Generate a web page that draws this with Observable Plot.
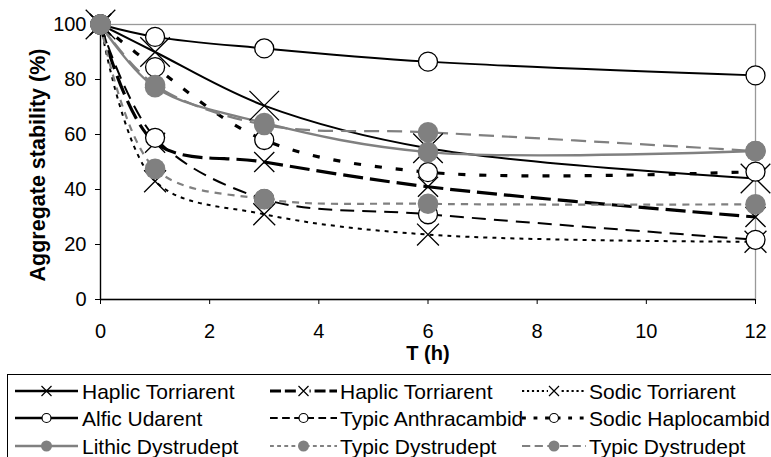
<!DOCTYPE html>
<html><head><meta charset="utf-8">
<script src="https://cdn.jsdelivr.net/npm/d3@7"></script>
<script src="https://cdn.jsdelivr.net/npm/@observablehq/plot@0.6"></script>
<style>
body{margin:0;background:#fff;font-family:"Liberation Sans",Arial,sans-serif;}
#wrap{position:relative;width:771px;height:457px;overflow:hidden;background:#fff;}
#legend{position:absolute;left:7px;top:374px;width:830px;height:120px;border:1px solid #000;box-sizing:border-box;}
.lab{position:absolute;font-size:21px;line-height:21px;white-space:nowrap;color:#000;}
.sw{position:absolute;}
</style></head><body><div id="wrap"><div id="chart"></div><div id="legend"></div></div>
<script>
// ---- data ----
const hours = [0, 1, 3, 6, 12];
const seriesNames = [
  "Haplic Torriarent", "Haplic Torriarent", "Sodic Torriarent",
  "Alfic Udarent", "Typic Anthracambid", "Sodic Haplocambid",
  "Lithic Dystrudept", "Typic Dystrudept", "Typic Dystrudept"
];
const haplicTorriarentA = [100, 90, 70.5, 55, 44];
const haplicTorriarentB = [100, 57, 50, 41, 30];
const sodicTorriarent   = [100, 43, 31, 23.6, 21];
const alficUdarent      = [100, 95.5, 91.3, 86.5, 81.5];
const typicAnthracambid = [100, 58.8, 36.5, 31, 21.7];
const sodicHaplocambid  = [100, 84.5, 58, 46.3, 46.5];
const lithicDystrudept  = [100, 77.2, 64.2, 53.6, 54];
const typicDystrudeptA  = [100, 47.5, 36.5, 34.8, 34.6];
const typicDystrudeptB  = [100, 78, 63.5, 60.8, 54];
const yTicks = [0, 20, 40, 60, 80, 100];
const xTicks = [0, 2, 4, 6, 8, 10, 12];

const values = [haplicTorriarentA, haplicTorriarentB, sodicTorriarent, alficUdarent,
  typicAnthracambid, sodicHaplocambid, lithicDystrudept, typicDystrudeptA, typicDystrudeptB];

// ---- styles ----
const GRAY = "#808080";
const styles = [
  {stroke:"#000", w:2,   dash:null,   marker:"x", r:13.5},
  {stroke:"#000", w:3.2, dash:"20,7", marker:"x", r:9.2},
  {stroke:"#000", w:2,   dash:"4,5",  marker:"x", r:10},
  {stroke:"#000", w:2,   dash:null,   marker:"o"},
  {stroke:"#000", w:2,   dash:"14,8", marker:"o"},
  {stroke:"#000", w:3.2, dash:"7,14", marker:"o"},
  {stroke:GRAY,   w:2.4, dash:null,   marker:"g"},
  {stroke:GRAY,   w:2.2, dash:"7,6",  marker:"g"},
  {stroke:GRAY,   w:2.2, dash:"15,8", marker:"g"}
];

const rows = [];
values.forEach((arr, i) => arr.forEach((v, j) => rows.push({s: i, t: hours[j], v})));
const of = i => rows.filter(d => d.s === i);

const lineMarks = styles.map((st, i) => Plot.line(of(i), {
  x: "t", y: "v", curve: "catmull-rom", stroke: st.stroke, strokeWidth: st.w,
  strokeDasharray: st.dash || undefined, strokeLinecap: "butt"
}));
const dotMarks = styles.map((st, i) => {
  if (st.marker === "x") return Plot.dot(of(i), {x:"t", y:"v", symbol:"times", r:st.r, stroke:"#000", strokeWidth:1.3});
  if (st.marker === "o") return Plot.dot(of(i), {x:"t", y:"v", symbol:"circle", r:9.5, fill:"#fff", stroke:"#000", strokeWidth:1.3});
  return Plot.dot(of(i), {x:"t", y:"v", symbol:"circle", r:10.3, fill:GRAY, stroke:"none"});
});

const chart = Plot.plot({
  width: 771, height: 365,
  marginTop: 24, marginBottom: 66, marginLeft: 100, marginRight: 16,
  style: {fontSize: "20px", fontFamily: "'Liberation Sans', Arial, sans-serif", color: "#000", background: "#fff"},
  x: {domain: [0, 12]},
  y: {domain: [0, 100]},
  marks: [
    Plot.frame({stroke: "#999", strokeWidth: 1.3}),
    Plot.axisX({ticks: xTicks, tickSize: 5, tickPadding: 19, label: null, fontSize: 20}),
    Plot.axisY({ticks: yTicks, tickSize: 5, tickPadding: 9, label: null, fontSize: 20}),
    Plot.ruleX([0], {stroke: "#000", strokeWidth: 1.3}),
    Plot.ruleY([0], {stroke: "#000", strokeWidth: 1.3}),
    ...lineMarks,
    ...dotMarks,
    Plot.text(["T (h)"], {frameAnchor: "bottom", lineAnchor: "middle", dy: 54, fontWeight: "bold", fontSize: 20}),
    Plot.text(["Aggregate stability (%)"], {frameAnchor: "left", textAnchor: "middle", lineAnchor: "middle", dx: -62, dy: 3, rotate: -90, fontWeight: "bold", fontSize: 21.5})
  ]
});
document.getElementById("chart").appendChild(chart);

// ---- legend ----
const legend = document.getElementById("legend");
const colSw = [7, 262, 514];
const colTx = [74, 332, 581];
const swW = [63, 67, 64];
const rowY = [16, 43, 71];
const NS = "http://www.w3.org/2000/svg";
styles.forEach((st, i) => {
  const row = Math.floor(i / 3), col = i % 3;
  const w = swW[col], h = 22;
  const svg = document.createElementNS(NS, "svg");
  svg.setAttribute("width", w); svg.setAttribute("height", h);
  svg.setAttribute("class", "sw");
  svg.style.left = colSw[col] + "px"; svg.style.top = (rowY[row] - h / 2) + "px";
  const ln = document.createElementNS(NS, "line");
  ln.setAttribute("x1", 0); ln.setAttribute("x2", w); ln.setAttribute("y1", h/2); ln.setAttribute("y2", h/2);
  ln.setAttribute("stroke", st.stroke); ln.setAttribute("stroke-width", st.dash ? st.w : 2.6);
  if (st.dash) ln.setAttribute("stroke-dasharray", st.dash.split(",").map(x => x * 0.55).join(","));
  svg.appendChild(ln);
  const cx = w / 2, cy = h / 2;
  if (st.marker === "x") {
    const p = document.createElementNS(NS, "path");
    p.setAttribute("d", `M${cx-5},${cy-5}L${cx+5},${cy+5}M${cx-5},${cy+5}L${cx+5},${cy-5}`);
    p.setAttribute("stroke", "#000"); p.setAttribute("stroke-width", 1.2);
    const bg = document.createElementNS(NS, "rect");
    bg.setAttribute("x", cx-6); bg.setAttribute("y", 0); bg.setAttribute("width", 12); bg.setAttribute("height", h);
    bg.setAttribute("fill", "#fff");
    if (i !== 0) svg.appendChild(bg);
    svg.appendChild(p);
  } else {
    const c = document.createElementNS(NS, "circle");
    c.setAttribute("cx", cx); c.setAttribute("cy", cy);
    c.setAttribute("r", st.marker === "o" ? 4.5 : 5.5);
    c.setAttribute("fill", st.marker === "o" ? "#fff" : GRAY);
    c.setAttribute("stroke", st.marker === "o" ? "#000" : "none");
    c.setAttribute("stroke-width", 1.2);
    svg.appendChild(c);
  }
  legend.appendChild(svg);
  const t = document.createElement("div");
  t.className = "lab";
  t.textContent = seriesNames[i];
  t.style.left = colTx[col] + "px"; t.style.top = (rowY[row] - 10.5) + "px";
  legend.appendChild(t);
});
</script></body></html>
